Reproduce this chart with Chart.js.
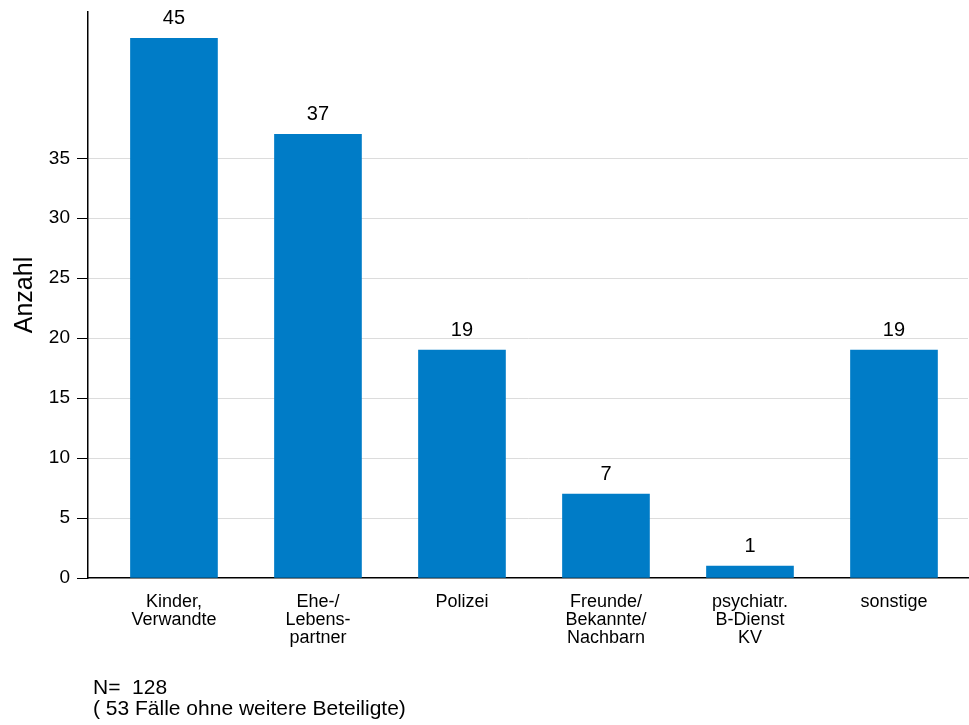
<!DOCTYPE html>
<html>
<head>
<meta charset="utf-8">
<script src="https://cdn.jsdelivr.net/npm/chart.js@4/dist/chart.umd.min.js"></script>
<style>
  html, body { margin: 0; padding: 0; background: #fff; }
  #wrap { width: 969px; height: 725px; }
</style>
</head>
<body>
<div id="wrap"><canvas id="chart" width="969" height="725"></canvas></div>
<script>
const categories = [
  ['Kinder,', 'Verwandte'],
  ['Ehe-/', 'Lebens-', 'partner'],
  ['Polizei'],
  ['Freunde/', 'Bekannte/', 'Nachbarn'],
  ['psychiatr.', 'B-Dienst', 'KV'],
  ['sonstige']
];
const counts = [45, 37, 19, 7, 1, 19];
const yTicks = [0, 5, 10, 15, 20, 25, 30, 35];
const notes = ['N=  128', '( 53 Fälle ohne weitere Beteiligte)'];

const FONT = "'Liberation Sans', Arial, sans-serif";
const ctx = document.getElementById('chart');

const valueLabels = {
  id: 'valueLabels',
  afterDatasetsDraw(chart) {
    const c = chart.ctx;
    const meta = chart.getDatasetMeta(0);
    c.save();
    c.fillStyle = '#000';
    c.font = '20px ' + FONT;
    c.textAlign = 'center';
    c.textBaseline = 'middle';
    meta.data.forEach((bar, i) => {
      c.fillText(String(counts[i]), bar.x, bar.y - 20);
    });
    c.restore();
  },
  afterDraw(chart) {
    const c = chart.ctx;
    c.save();
    c.fillStyle = '#000';
    c.font = '21px ' + FONT;
    c.textAlign = 'left';
    c.textBaseline = 'middle';
    c.fillText(notes[0], 93, 688);
    c.fillText(notes[1], 93, 709);
    c.restore();
  }
};

new Chart(ctx, {
  type: 'bar',
  data: {
    datasets: [{
      data: counts.map((v, i) => ({ x: i, y: v })),
      backgroundColor: '#007cc7',
      borderWidth: 0,
      barThickness: 87
    }]
  },
  options: {
    responsive: false,
    animation: false,
    layout: { padding: { top: 12, right: 1, left: 0, bottom: 0 } },
    plugins: {
      legend: { display: false },
      tooltip: { enabled: false }
    },
    scales: {
      x: {
        type: 'linear',
        offset: false,
        min: -0.597,
        max: 5.514,
        afterBuildTicks: axis => { axis.ticks = categories.map((_, i) => ({ value: i })); },
        afterFit: axis => { axis.height = 147; axis.paddingLeft = 0; axis.paddingRight = 0; },
        grid: { display: false },
        border: { display: true, color: '#000', width: 1.5 },
        ticks: {
          autoSkip: false,
          maxRotation: 0,
          padding: 7,
          color: '#000',
          font: { family: FONT, size: 18, lineHeight: 1.0 },
          callback: v => categories[v]
        }
      },
      y: {
        min: 0,
        max: 47.2,
        afterBuildTicks: axis => { axis.ticks = yTicks.map(v => ({ value: v })); },
        afterFit: axis => { axis.width = 88; axis.paddingTop = 0; axis.paddingBottom = 0; },
        grid: {
          color: ctx2 => ctx2.tick && ctx2.tick.value === 0 ? 'rgba(0,0,0,0)' : '#dcdcdc',
          tickColor: '#000',
          tickLength: 11,
          lineWidth: 1
        },
        border: { display: true, color: '#000', width: 1.5 },
        ticks: {
          padding: 7,
          color: '#000',
          font: { family: FONT, size: 19 }
        },
        title: {
          display: true,
          text: 'Anzahl',
          color: '#000',
          font: { family: FONT, size: 25 },
          padding: { top: 10, bottom: 0 }
        }
      }
    }
  },
  plugins: [valueLabels]
});
</script>
</body>
</html>
